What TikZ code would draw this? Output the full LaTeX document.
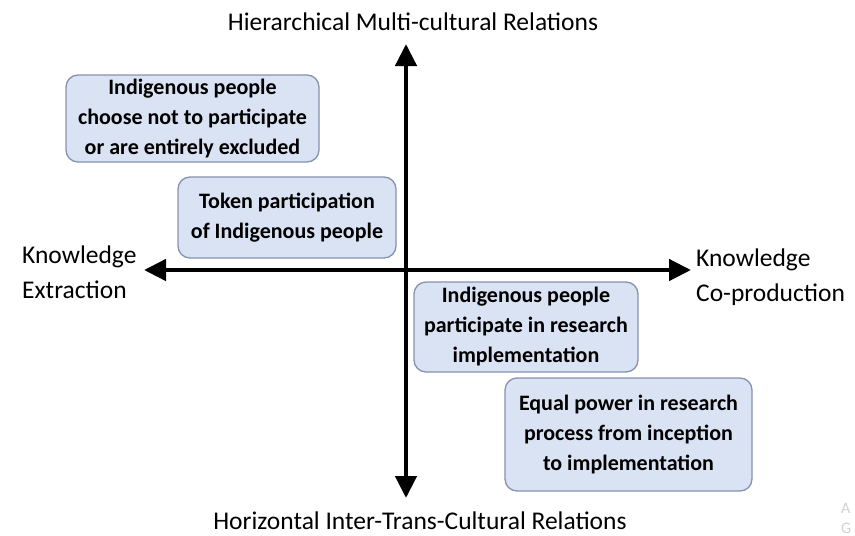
\documentclass[tikz,border=0pt]{standalone}
\usepackage{fontspec}
\setmainfont{Carlito}
\usetikzlibrary{arrows.meta}
\definecolor{boxfill}{HTML}{DAE3F3}
\definecolor{boxline}{HTML}{8593AE}
\tikzset{
  quadbox/.style={draw=boxline, line width=1.3pt, fill=boxfill, rounded corners=12pt,
    align=center, font=\fontsize{22}{30}\selectfont\bfseries, inner sep=0pt},
  axisline/.style={line width=4.5pt, {Triangle[width=21pt,length=22pt]}-{Triangle[width=21pt,length=22pt]}},
  axislabel/.style={font=\fontsize{25.5}{35}\selectfont, inner sep=0pt},
  faint/.style={text=black!18, font=\fontsize{16}{16}\selectfont, inner sep=0pt}
}
\begin{document}
\begin{tikzpicture}[x=1pt,y=-1pt]
\useasboundingbox (0,0) rectangle (855,536);
% axes
\coordinate (top) at (406,44);
\coordinate (bottom) at (406,498);
\coordinate (left) at (144,270);
\coordinate (right) at (691,270);
\draw[axisline] (top) -- (bottom);
\draw[axisline] (left) -- (right);
% axis labels
\node[axislabel] (hier) at (413,22) {Hierarchical Multi-cultural Relations};
\node[axislabel] (horiz) at (420,521) {Horizontal Inter-Trans-Cultural Relations};
\node[axislabel, align=left, anchor=west] (extr) at (22,272) {Knowledge\\Extraction};
\node[axislabel, align=left, anchor=west] (coprod) at (696,277) {Knowledge\\Co-production};
% quadrant boxes
\draw[quadbox] (66,75) rectangle (319,162);
\node[quadbox, draw=none, fill=none] (b1) at (192.5,118.5) {Indigenous people\\choose not to participate\\or are entirely excluded};
\draw[quadbox] (178,177) rectangle (396,258);
\node[quadbox, draw=none, fill=none] (b2) at (287,217.5) {Token participation\\of Indigenous people};
\draw[quadbox] (414,282) rectangle (638,372);
\node[quadbox, draw=none, fill=none] (b3) at (526,327) {Indigenous people\\participate in research\\implementation};
\draw[quadbox] (505,378) rectangle (752,491);
\node[quadbox, draw=none, fill=none] (b4) at (628.5,435) {Equal power in research\\process from inception\\to implementation};
% faded letters at the lower right edge
\node[faint, anchor=west] (wa) at (841,508) {A};
\node[faint, anchor=west] (wg) at (841,528) {G};
\end{tikzpicture}
\end{document}
